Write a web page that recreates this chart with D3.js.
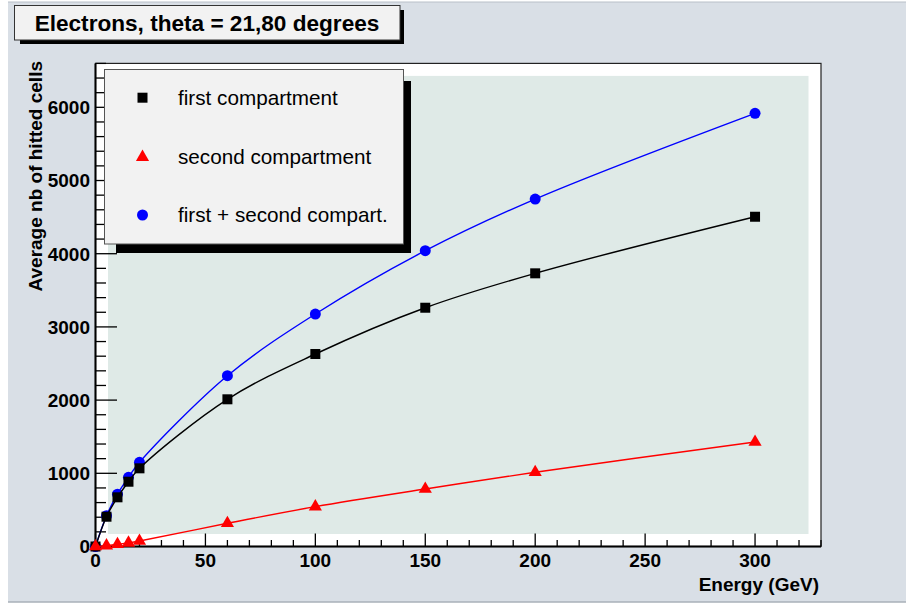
<!DOCTYPE html>
<html>
<head>
<meta charset="utf-8">
<script src="https://cdn.jsdelivr.net/npm/d3@7"></script>
<style>
  body { margin: 0; background: #ffffff; }
  svg { display: block; }
  text { font-family: "Liberation Sans", Arial, Helvetica, sans-serif; }
</style>
</head>
<body>
<div id="chart"></div>
<script>
// data
var energy = [0, 5, 10, 15, 20, 60, 100, 150, 200, 300];
var firstComp = [0, 407, 672, 885, 1068, 2011, 2630, 3262, 3732, 4505];
var secondComp = [0, 12, 30, 50, 75, 317, 544, 785, 1014, 1428];
var sumComp = [0, 420, 715, 945, 1150, 2333, 3176, 4041, 4747, 5918];

var xTicks = [0, 50, 100, 150, 200, 250, 300];
var yTicks = [0, 1000, 2000, 3000, 4000, 5000, 6000];
var legendNames = ["first compartment", "second compartment", "first + second compart."];

var titleText = "Electrons, theta = 21,80 degrees";
var xTitle = "Energy (GeV)";
var yTitle = "Average nb of hitted cells";

const W = 906, H = 604;
const frame = { left: 95.5, right: 821, top: 63.4, bottom: 546.5 };

const svg = d3.select("#chart")
  .append("svg")
  .attr("width", W)
  .attr("height", H);

// pad background
svg.append("rect")
  .attr("x", 8).attr("y", 2)
  .attr("width", W - 8).attr("height", 600)
  .attr("fill", "#d9dfe6");
svg.append("line").attr("x1", 8).attr("x2", W).attr("y1", 2).attr("y2", 2)
  .attr("stroke", "#b9c0c8").attr("stroke-width", 1);
svg.append("line").attr("x1", 8).attr("x2", W).attr("y1", 602).attr("y2", 602)
  .attr("stroke", "#a9b0b8").attr("stroke-width", 1.5);

// scales
const x = d3.scaleLinear().domain([0, 330]).range([frame.left, frame.right]);
const y = d3.scaleLinear().domain([0, 6600]).range([frame.bottom, frame.top]);

// frame: white bevel + teal fill
svg.append("rect")
  .attr("x", frame.left).attr("y", frame.top)
  .attr("width", frame.right - frame.left).attr("height", frame.bottom - frame.top)
  .attr("fill", "#ffffff");
const bev = 12.5;
svg.append("rect")
  .attr("x", frame.left + bev).attr("y", frame.top + bev)
  .attr("width", frame.right - frame.left - 2 * bev)
  .attr("height", frame.bottom - frame.top - 2 * bev)
  .attr("fill", "#dfeae7");
svg.append("rect")
  .attr("x", frame.left).attr("y", frame.top)
  .attr("width", frame.right - frame.left).attr("height", frame.bottom - frame.top)
  .attr("fill", "none")
  .attr("stroke", "#222")
  .attr("stroke-width", 1.2);

// x axis ticks (upward, inside)
const xMinor = d3.range(0, 331, 10);
svg.append("g").selectAll("line")
  .data(xMinor)
  .join("line")
  .attr("x1", d => x(d)).attr("x2", d => x(d))
  .attr("y1", frame.bottom)
  .attr("y2", d => frame.bottom - (d % 50 === 0 ? 13 : 6.5))
  .attr("stroke", "#000").attr("stroke-width", 1.3);

svg.append("g").selectAll("text")
  .data(xTicks)
  .join("text")
  .attr("x", d => x(d))
  .attr("y", 567)
  .attr("text-anchor", "middle")
  .attr("font-size", 19)
  .attr("font-weight", "bold")
  .text(d => d);

// y axis ticks (rightward, inside)
const yMinor = d3.range(0, 6601, 200);
svg.append("g").selectAll("line")
  .data(yMinor)
  .join("line")
  .attr("x1", frame.left)
  .attr("x2", d => frame.left + (d % 1000 === 0 ? 21.5 : 10.5))
  .attr("y1", d => y(d)).attr("y2", d => y(d))
  .attr("stroke", "#000").attr("stroke-width", 1.3);

svg.append("g").selectAll("text")
  .data(yTicks)
  .join("text")
  .attr("x", 90)
  .attr("y", d => y(d))
  .attr("dy", "0.36em")
  .attr("text-anchor", "end")
  .attr("font-size", 19)
  .attr("font-weight", "bold")
  .text(d => d);

// axis lines
svg.append("line")
  .attr("x1", frame.left).attr("x2", frame.right)
  .attr("y1", frame.bottom).attr("y2", frame.bottom)
  .attr("stroke", "#000").attr("stroke-width", 2);
svg.append("line")
  .attr("x1", frame.left).attr("x2", frame.left)
  .attr("y1", frame.top).attr("y2", frame.bottom)
  .attr("stroke", "#000").attr("stroke-width", 2);

// axis titles
svg.append("text")
  .attr("x", 819).attr("y", 591)
  .attr("text-anchor", "end")
  .attr("font-size", 19)
  .attr("font-weight", "bold")
  .text(xTitle);

svg.append("text")
  .attr("transform", "translate(42,61) rotate(-90)")
  .attr("text-anchor", "end")
  .attr("font-size", 19)
  .attr("font-weight", "bold")
  .text(yTitle);

// curves
const line = d3.line()
  .x(d => x(d[0]))
  .y(d => y(d[1]))
  .curve(d3.curveCatmullRom.alpha(0.5));

const series = [
  { vals: sumComp, color: "#0000ff", marker: "circle" },
  { vals: firstComp, color: "#000000", marker: "square" },
  { vals: secondComp, color: "#ff0000", marker: "triangle" }
];

const symbols = {
  circle: d3.symbol().type(d3.symbolCircle).size(95),
  square: d3.symbol().type(d3.symbolSquare).size(100),
  triangle: d3.symbol().type(d3.symbolTriangle).size(75)
};

series.forEach(s => {
  const pts = energy.map((e, i) => [e, s.vals[i]]);
  svg.append("path")
    .datum(pts)
    .attr("d", line)
    .attr("fill", "none")
    .attr("stroke", s.color)
    .attr("stroke-width", 1.4);

  svg.append("g").selectAll("path")
    .data(pts)
    .join("path")
    .attr("d", symbols[s.marker])
    .attr("transform", d => `translate(${x(d[0])},${y(d[1])})`)
    .attr("fill", s.color);
});

// legend box with shadow
svg.append("rect").attr("x", 116).attr("y", 244).attr("width", 295).attr("height", 9).attr("fill", "#000");
svg.append("rect").attr("x", 404).attr("y", 81).attr("width", 7).attr("height", 172).attr("fill", "#000");
svg.append("rect")
  .attr("x", 104.5).attr("y", 69.5)
  .attr("width", 299).attr("height", 174.5)
  .attr("fill", "#f2f2f2")
  .attr("stroke", "#555")
  .attr("stroke-width", 1);

const legendY = [97.7, 157.2, 215];
const legendMarkers = ["square", "triangle", "circle"];
const legendColors = ["#000000", "#ff0000", "#0000ff"];

legendNames.forEach((name, i) => {
  svg.append("path")
    .attr("d", symbols[legendMarkers[i]])
    .attr("transform", `translate(142.5,${legendY[i]})`)
    .attr("fill", legendColors[i]);
  svg.append("text")
    .attr("x", 178)
    .attr("y", legendY[i] + 7)
    .attr("font-size", 20.7)
    .attr("fill", "#000")
    .text(name);
});

// title box with shadow
svg.append("rect").attr("x", 20).attr("y", 40).attr("width", 384).attr("height", 4).attr("fill", "#000");
svg.append("rect").attr("x", 400).attr("y", 10).attr("width", 4).attr("height", 34).attr("fill", "#000");
svg.append("rect")
  .attr("x", 14.5).attr("y", 5.5)
  .attr("width", 385.5).attr("height", 34.5)
  .attr("fill", "#f2f2f2")
  .attr("stroke", "#333")
  .attr("stroke-width", 1);
svg.append("text")
  .attr("x", 207).attr("y", 30.5)
  .attr("text-anchor", "middle")
  .attr("font-size", 22.6)
  .attr("font-weight", "bold")
  .text(titleText);
</script>
</body>
</html>
